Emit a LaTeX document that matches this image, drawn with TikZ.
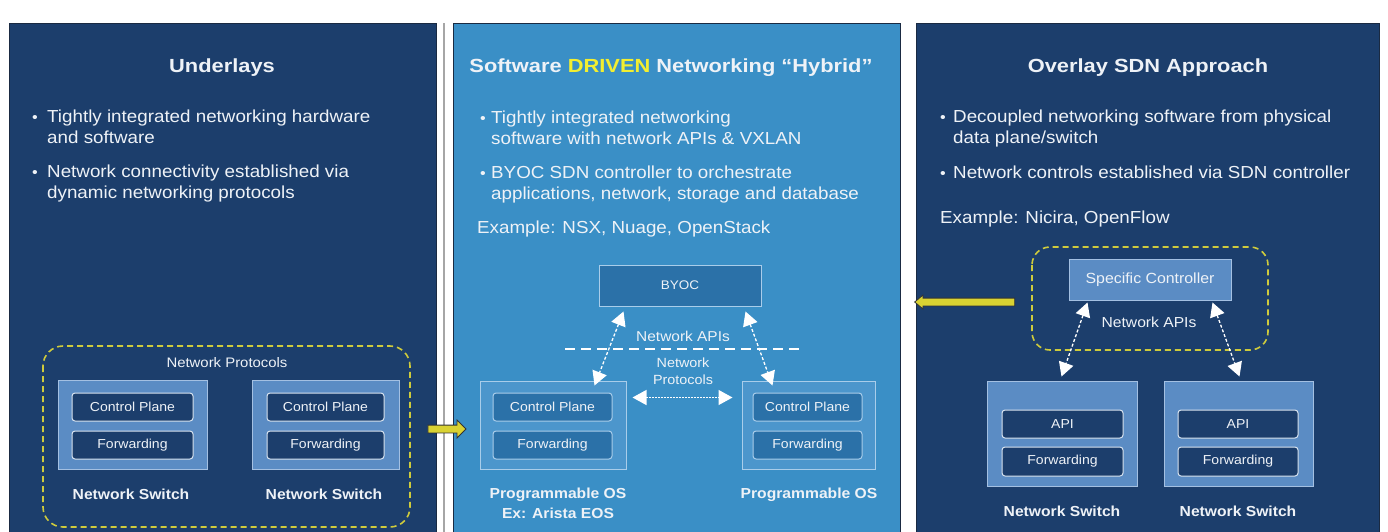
\documentclass[tikz,border=0pt]{standalone}
\usepackage{fontspec}
\setmainfont{Liberation Sans}[FakeStretch=1.08]
\newfontfamily\titlefont{Liberation Sans}[FakeStretch=1.15]
\usetikzlibrary{arrows.meta,shapes.arrows}

\definecolor{navy}{HTML}{1C3E6C}
\definecolor{midblue}{HTML}{3A8FC6}
\definecolor{slate}{HTML}{5B8CC4}
\definecolor{slateedge}{HTML}{A4C0E2}
\definecolor{midbox}{HTML}{4C96CC}
\definecolor{midinner}{HTML}{2B71A8}
\definecolor{midedge}{HTML}{A9CDEA}
\definecolor{ygreen}{HTML}{CFCB3C}
\definecolor{yel}{HTML}{D9D232}
\definecolor{yeltext}{HTML}{F2EE30}
\definecolor{txt}{HTML}{EEF2F7}
\definecolor{paneledge}{HTML}{1A2A42}

\tikzset{
  panel/.style={draw=paneledge, line width=0.8pt},
  title/.style={text=txt, font=\titlefont\bfseries\fontsize{19}{23}\selectfont, inner sep=0pt, anchor=base},
  btext/.style={text=txt, font=\fontsize{17.4}{21}\selectfont, inner sep=0pt, anchor=base west},
  bdot/.style={text=txt, font=\fontsize{15}{17}\selectfont, inner sep=0pt, anchor=base},
  swbox/.style={fill=slate, draw=slateedge, line width=1pt, inner sep=0pt},
  mswbox/.style={fill=midbox, draw=midedge, line width=1pt, inner sep=0pt},
  innerbox/.style={fill=navy, draw=txt!85!slate, line width=1pt, rounded corners=3pt,
    minimum width=121pt, minimum height=28pt, inner sep=0pt, text=txt, font=\fontsize{13}{15}\selectfont},
  minner/.style={innerbox, fill=midinner, draw=midedge},
  label/.style={text=txt, font=\bfseries\fontsize{14.5}{18}\selectfont, inner sep=0pt},
  small/.style={text=txt, font=\fontsize{13.8}{17}\selectfont, inner sep=0pt},
  grp/.style={draw=ygreen, line width=1.6pt, dash pattern=on 6pt off 4pt, rounded corners=20pt},
  dwarrow/.style={draw=white, line width=1.3pt, dash pattern=on 3pt off 2pt, {Triangle[length=14pt,width=15pt,fill=white]}-{Triangle[length=14pt,width=15pt,fill=white]}},
  dotarrow/.style={draw=white, line width=1.3pt, dash pattern=on 1.5pt off 1.5pt, {Triangle[length=14pt,width=15pt,fill=white]}-{Triangle[length=14pt,width=15pt,fill=white]}},
  yarrow/.style={single arrow, fill=yel, draw=black!80, line width=0.8pt, inner xsep=0pt, inner ysep=3.5pt}
}

\begin{document}
\begin{tikzpicture}[x=1pt,y=-1pt]
\useasboundingbox (0,0) rectangle (1388,531);
\clip (0,0) rectangle (1388,531);
\fill[white] (0,0) rectangle (1388,531);

% panels
\draw[panel, fill=navy] (9,23) rectangle (436,540);
\draw[gray!70, line width=1.5pt] (444,23) -- (444,540);
\draw[panel, fill=midblue] (453,23) rectangle (900,540);
\draw[panel, fill=navy] (916,23) rectangle (1379,540);

% titles
\node[title] (t1) at (222,72) {Underlays};
\node[title] (t2) at (671,72) {Software \textcolor{yeltext}{DRIVEN} Networking “Hybrid”};
\node[title] (t3) at (1148,72) {Overlay SDN Approach};

% left bullets
\node[bdot] (d1a) at (35,122) {•};
\node[btext] (l1a) at (47,122) {Tightly integrated networking hardware};
\node[btext] (l1b) at (47,143) {and software};
\node[bdot] (d1b) at (35,177) {•};
\node[btext] (l1c) at (47,177) {Network connectivity established via};
\node[btext] (l1d) at (47,198) {dynamic networking protocols};

% middle bullets
\node[bdot] (d2a) at (483,123) {•};
\node[btext] (l2a) at (491,123) {Tightly integrated networking};
\node[btext] (l2b) at (491,144) {software with network APIs \& VXLAN};
\node[bdot] (d2b) at (483,178) {•};
\node[btext] (l2c) at (491,178) {BYOC SDN controller to orchestrate};
\node[btext] (l2d) at (491,199) {applications, network, storage and database};
\node[btext] (l2e) at (477,233) {Example: NSX, Nuage, OpenStack};

% right bullets
\node[bdot] (d3a) at (943,122) {•};
\node[btext] (l3a) at (953,122) {Decoupled networking software from physical};
\node[btext] (l3b) at (953,143) {data plane/switch};
\node[bdot] (d3b) at (943,178) {•};
\node[btext] (l3c) at (953,178) {Network controls established via SDN controller};
\node[btext] (l3e) at (940,223) {Example: Nicira, OpenFlow};

% left diagram
\draw[grp] (43,346) rectangle (410,527);
\node[small] (np) at (227,363) {Network Protocols};
\node[swbox, minimum width=149pt, minimum height=89pt] (ls1) at (132.5,424.5) {};
\node[innerbox] (lc1) at (132.5,407) {Control Plane};
\node[innerbox] (lf1) at (132.5,445) {Forwarding};
\node[label] (ln1) at (131,494) {Network Switch};
\node[swbox, minimum width=147pt, minimum height=89pt] (ls2) at (325.5,424.5) {};
\node[innerbox, minimum width=117pt] (lc2) at (325.5,407) {Control Plane};
\node[innerbox, minimum width=117pt] (lf2) at (325.5,445) {Forwarding};
\node[label] (ln2) at (324,494) {Network Switch};

% middle diagram
\node[minner, minimum width=162pt, minimum height=41pt, rounded corners=0pt, font=\fontsize{12.5}{15}\selectfont] (byoc) at (680,285.5) {BYOC};
\draw[white, line width=2.5pt, dash pattern=on 10pt off 6pt] (565,349) -- (802,349);
\node[small, font=\fontsize{14.3}{17}\selectfont] (napi) at (683,336) {Network APIs};
\node[small, align=center, font=\fontsize{13.3}{17}\selectfont] (nprot) at (683,371) {Network\\Protocols};
\node[mswbox, minimum width=146pt, minimum height=88pt] (ms1) at (553,425) {};
\node[minner, minimum width=119pt] (mc1) at (552.5,407) {Control Plane};
\node[minner, minimum width=119pt] (mf1) at (552.5,445) {Forwarding};
\node[mswbox, minimum width=133pt, minimum height=88pt] (ms2) at (808.5,425) {};
\node[minner, minimum width=109pt] (mc2) at (807.5,407) {Control Plane};
\node[minner, minimum width=109pt] (mf2) at (807.5,445) {Forwarding};
\node[label] (po1) at (558,495) {Programmable OS};
\node[label] (po2) at (558,513) {Ex: Arista EOS};
\node[label] (po3) at (809,495) {Programmable OS};
\draw[dwarrow] ([xshift=25pt,yshift=-5pt]byoc.south west) -- ([xshift=115pt,yshift=-5pt]ms1.north west);
\draw[dwarrow] ([xshift=-16pt,yshift=-5pt]byoc.south east) -- ([xshift=31pt,yshift=-5pt]ms2.north west);
\draw[dotarrow] ([xshift=6pt,yshift=-17pt]ms1.north east) -- ([xshift=-9pt,yshift=-17pt]ms2.north west);

% right diagram
\draw[grp, rounded corners=18pt] (1032,247) rectangle (1268,350);
\node[swbox, minimum width=162pt, minimum height=41pt, text=txt, font=\fontsize{14.7}{17}\selectfont] (sc) at (1150,279.5) {Specific Controller};
\node[small, font=\fontsize{14.5}{17}\selectfont] (rapi) at (1149,322) {Network APIs};
\node[swbox, minimum width=150pt, minimum height=105pt] (rs1) at (1062,433.5) {};
\node[innerbox] (ra1) at (1062.5,424) {API};
\node[innerbox, minimum height=29pt] (rf1) at (1062.5,461.5) {Forwarding};
\node[swbox, minimum width=149pt, minimum height=105pt] (rs2) at (1238.5,433.5) {};
\node[innerbox, minimum width=120pt] (ra2) at (1238,424) {API};
\node[innerbox, minimum width=120pt, minimum height=29pt] (rf2) at (1238,461.5) {Forwarding};
\node[label] (rn1) at (1062,511) {Network Switch};
\node[label] (rn2) at (1238,511) {Network Switch};
\draw[dwarrow] ([xshift=19pt,yshift=-2pt]sc.south west) -- ([xshift=75pt,yshift=4pt]rs1.north west);
\draw[dwarrow] ([xshift=-19pt,yshift=-2pt]sc.south east) -- ([xshift=76pt,yshift=4pt]rs2.north west);

% yellow block arrows
\node[yarrow, minimum height=38pt, single arrow head extend=5pt] (ya1) at (445,429) {};
\node[yarrow, minimum height=100pt, single arrow head extend=3pt, shape border rotate=180, single arrow tip angle=80] (ya2) at (967,302) {};
\end{tikzpicture}
\end{document}
